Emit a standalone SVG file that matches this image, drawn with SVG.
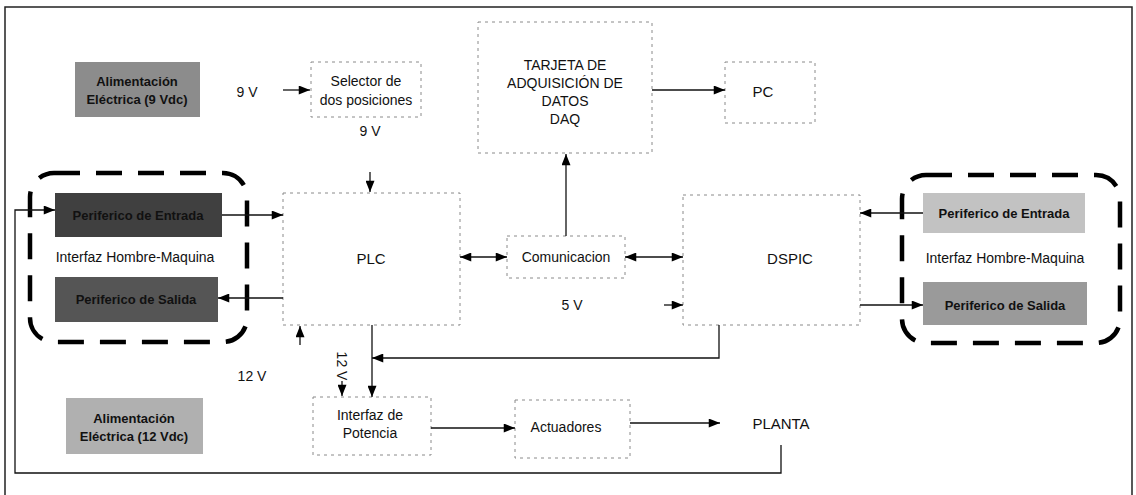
<svg xmlns="http://www.w3.org/2000/svg" width="1136" height="495" viewBox="0 0 1136 495">
<defs>
<style>
text{font-family:"Liberation Sans",Arial,sans-serif;fill:#111;text-anchor:middle;dominant-baseline:central}
.t14{font-size:14px}
.t15{font-size:15px}
.tb{font-size:13px;font-weight:bold}
.box{fill:#fff;stroke:#8a8a8a;stroke-width:1;stroke-dasharray:3 4}
.grp{fill:none;stroke:#000;stroke-width:4.5;stroke-dasharray:26 16}
.c{fill:none;stroke:#111;stroke-width:1.3}
.frame{fill:none;stroke:#222;stroke-width:1.5}
</style>
<marker id="ah" viewBox="0 0 10 8" refX="10" refY="4" markerWidth="12" markerHeight="9" markerUnits="userSpaceOnUse" orient="auto">
<path d="M0,0 L10,4 L0,8 z" fill="#000"/>
</marker>
<marker id="as" viewBox="0 0 10 8" refX="0" refY="4" markerWidth="12" markerHeight="9" markerUnits="userSpaceOnUse" orient="auto">
<path d="M10,0 L0,4 L10,8 z" fill="#000"/>
</marker>
</defs>
<rect width="1136" height="495" fill="#fff"/>
<path class="frame" d="M5,495 V7 H1132 V495"/>

<g id="grupo-izq"><rect class="grp" x="30" y="173" width="217" height="169" rx="24"/></g>
<g id="grupo-der"><rect class="grp" x="902" y="175" width="218" height="168" rx="24"/></g>

<g id="alim9"><rect x="75" y="62" width="125" height="55" fill="#8c8c8c"/><text class="tb" x="137" y="81">Alimentación</text><text class="tb" x="137" y="99">Eléctrica (9 Vdc)</text></g>
<g id="selector"><rect class="box" x="311" y="62" width="110" height="55"/><text class="t14" x="366" y="81">Selector de</text><text class="t14" x="366" y="100">dos posiciones</text></g>
<g id="daq"><rect class="box" x="478" y="22" width="174" height="131"/><text class="t14" x="565" y="65">TARJETA DE</text><text class="t14" x="565" y="83">ADQUISICIÓN DE</text><text class="t14" x="565" y="101">DATOS</text><text class="t14" x="565" y="119">DAQ</text></g>
<g id="pc"><rect class="box" x="725" y="62" width="90" height="61"/><text class="t15" x="763" y="91">PC</text></g>

<g id="per-ent-izq"><rect x="55" y="193" width="167" height="44" fill="#404040"/><text class="tb" x="138" y="215">Periferico de Entrada</text></g>
<g id="hmi-izq"><text class="t14" x="135" y="257">Interfaz Hombre-Maquina</text></g>
<g id="per-sal-izq"><rect x="55" y="277" width="163" height="45" fill="#555"/><text class="tb" x="136" y="299">Periferico de Salida</text></g>

<g id="plc"><rect class="box" x="283" y="193" width="177" height="132"/><text class="t15" x="371" y="258">PLC</text></g>
<g id="comunicacion"><rect class="box" x="507" y="236" width="118" height="42"/><text class="t14" x="566" y="257">Comunicacion</text></g>
<g id="dspic"><rect class="box" x="683" y="195" width="177" height="130"/><text class="t15" x="790" y="258">DSPIC</text></g>

<g id="per-ent-der"><rect x="923" y="193" width="162" height="40" fill="#c2c2c2"/><text class="tb" x="1004" y="213">Periferico de Entrada</text></g>
<g id="hmi-der"><text class="t14" x="1005" y="258">Interfaz Hombre-Maquina</text></g>
<g id="per-sal-der"><rect x="923" y="282" width="164" height="43" fill="#9a9a9a"/><text class="tb" x="1005" y="305">Periferico de Salida</text></g>

<g id="alim12"><rect x="66" y="398" width="137" height="56" fill="#b0b0b0"/><text class="tb" x="134" y="418">Alimentación</text><text class="tb" x="134" y="436">Eléctrica (12 Vdc)</text></g>
<g id="interfaz-potencia"><rect class="box" x="313" y="397" width="118" height="58"/><text class="t14" x="370" y="415">Interfaz de</text><text class="t14" x="370" y="433">Potencia</text></g>
<g id="actuadores"><rect class="box" x="515" y="400" width="115" height="58"/><text class="t14" x="566" y="427">Actuadores</text></g>
<g id="planta"><text class="t15" x="781" y="423">PLANTA</text></g>

<g id="conectores">
<line class="c" x1="283" y1="90" x2="310" y2="90" marker-end="url(#ah)"/>
<text class="t14" x="247" y="92">9 V</text>
<line class="c" x1="652" y1="90" x2="725" y2="90" marker-end="url(#ah)"/>
<text class="t14" x="370" y="131">9 V</text>
<line class="c" x1="370" y1="172" x2="370" y2="192" marker-end="url(#ah)"/>
<line class="c" x1="222" y1="215" x2="283" y2="215" marker-end="url(#ah)"/>
<line class="c" x1="283" y1="298" x2="218" y2="298" marker-end="url(#ah)"/>
<path class="c" d="M781,445 V473 H15 V210 H55" marker-end="url(#ah)"/>
<line class="c" x1="460" y1="257" x2="507" y2="257" marker-start="url(#as)" marker-end="url(#ah)"/>
<line class="c" x1="625" y1="257" x2="683" y2="257" marker-start="url(#as)" marker-end="url(#ah)"/>
<line class="c" x1="566" y1="236" x2="566" y2="154" marker-end="url(#ah)"/>
<text class="t14" x="572" y="305">5 V</text>
<line class="c" x1="664" y1="305" x2="683" y2="305" marker-end="url(#ah)"/>
<path class="c" d="M719,325 V358 H372" marker-end="url(#ah)"/>
<line class="c" x1="372" y1="325" x2="372" y2="397" marker-end="url(#ah)"/>
<text class="t14" x="252" y="376">12 V</text>
<line class="c" x1="300" y1="345" x2="300" y2="326" marker-end="url(#ah)"/>
<text class="t14" transform="translate(342,366) rotate(90)" x="0" y="0">12 V</text>
<line class="c" x1="342" y1="381" x2="342" y2="396" marker-end="url(#ah)"/>
<line class="c" x1="923" y1="213" x2="860" y2="213" marker-end="url(#ah)"/>
<line class="c" x1="860" y1="305" x2="923" y2="305" marker-end="url(#ah)"/>
<line class="c" x1="431" y1="428" x2="515" y2="428" marker-end="url(#ah)"/>
<line class="c" x1="630" y1="423" x2="720" y2="423" marker-end="url(#ah)"/>
</g>
</svg>
